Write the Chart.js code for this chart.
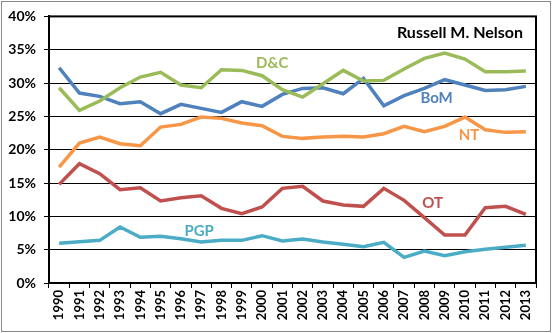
<!DOCTYPE html>
<html>
<head>
<meta charset="utf-8">
<script src="https://cdn.jsdelivr.net/npm/chart.js@4/dist/chart.umd.min.js"></script>
<style>
    html, body { margin: 0; padding: 0; background: #fff; }
    #wrap { width: 553px; height: 333px; }
</style>
</head>
<body>
<div id="wrap"><canvas id="talkChart" width="553" height="333"></canvas></div>
<script>
// Years on the x axis
const years = ['1990', '1991', '1992', '1993', '1994', '1995', '1996', '1997', '1998', '1999', '2000', '2001',
    '2002', '2003', '2004', '2005', '2006', '2007', '2008', '2009', '2010', '2011', '2012', '2013'];

// Share of each topic per year (%)
const dcValues = [29.3, 25.9, 27.3, 29.3, 30.9, 31.6, 29.7, 29.3, 32.0, 31.9, 31.1, 29.0,
    27.9, 29.9, 31.9, 30.3, 30.4, 32.1, 33.7, 34.5, 33.6, 31.7, 31.7, 31.8];
const bomValues = [32.3, 28.5, 28.0, 26.9, 27.2, 25.4, 26.8, 26.2, 25.6, 27.2, 26.5, 28.3,
    29.2, 29.3, 28.4, 30.7, 26.6, 28.1, 29.2, 30.5, 29.7, 28.9, 29.0, 29.5];
const ntValues = [17.4, 21.0, 21.9, 20.9, 20.6, 23.4, 23.8, 24.9, 24.7, 24.0, 23.6, 22.0,
    21.7, 21.9, 22.0, 21.9, 22.4, 23.5, 22.7, 23.5, 24.9, 23.0, 22.6, 22.7];
const otValues = [14.8, 17.9, 16.4, 14.0, 14.3, 12.3, 12.8, 13.1, 11.2, 10.4, 11.4, 14.2,
    14.5, 12.3, 11.7, 11.5, 14.2, 12.4, 9.8, 7.2, 7.2, 11.3, 11.5, 10.3];
const pgpValues = [5.95, 6.2, 6.4, 8.4, 6.85, 7.0, 6.65, 6.15, 6.4, 6.4, 7.1, 6.3,
    6.6, 6.15, 5.8, 5.45, 6.1, 3.85, 4.8, 4.1, 4.7, 5.05, 5.35, 5.65];

// Y axis ticks (%)
const yTicks = [0, 5, 10, 15, 20, 25, 30, 35, 40];

const chartTitle = 'Russell M. Nelson';

// Inline series names, placed by (year index, value)
const seriesTags = [
    { text: 'D&C', index: 10.5, value: 33.0, color: '#9BBB59' },
    { text: 'BoM', index: 18.6, value: 27.7, color: '#4F81BD' },
    { text: 'NT', index: 20.2, value: 22.2, color: '#F79646' },
    { text: 'OT', index: 18.4, value: 12.0, color: '#C0504D' },
    { text: 'PGP', index: 6.9, value: 7.8, color: '#4BACC6' }
];

const FONT = 'Lato, "Liberation Sans", Arial, sans-serif';

function makeSeries(label, values, color) {
    return {
        label: label,
        data: values,
        borderColor: color,
        backgroundColor: color,
        borderWidth: 3.5,
        pointRadius: 0,
        tension: 0,
        fill: false
    };
}

// Frame, title and series names
const decorations = {
    id: 'decorations',
    beforeDraw(chart) {
        const ctx = chart.ctx;
        ctx.save();
        ctx.strokeStyle = '#888888';
        ctx.lineWidth = 1;
        ctx.strokeRect(1.5, 1.5, 549, 330);
        ctx.restore();
    },
    afterDatasetsDraw(chart) {
        const ctx = chart.ctx;
        const area = chart.chartArea;
        const x = chart.scales.x;
        const y = chart.scales.y;

        ctx.save();
        // plot border
        ctx.strokeStyle = '#000';
        ctx.lineWidth = 2;
        ctx.strokeRect(area.left, area.top, area.right - area.left, area.bottom - area.top);

        ctx.textBaseline = 'middle';
        ctx.textAlign = 'right';
        ctx.fillStyle = '#000';
        ctx.font = 'bold 16px ' + FONT;
        ctx.fillText(chartTitle, area.right - 13, y.getPixelForValue(37.5));

        ctx.textAlign = 'center';
        ctx.font = 'bold 15px ' + FONT;
        seriesTags.forEach(tag => {
            const px = x.getPixelForValue(0) + tag.index * (x.getPixelForValue(1) - x.getPixelForValue(0));
            ctx.fillStyle = tag.color;
            ctx.fillText(tag.text, px, y.getPixelForValue(tag.value));
        });
        ctx.restore();
    }
};

const ctx = document.getElementById('talkChart').getContext('2d');
const chart = new Chart(ctx, {
    type: 'line',
    data: {
        labels: years,
        datasets: [
            makeSeries('D&C', dcValues, '#9BBB59'),
            makeSeries('BoM', bomValues, '#4F81BD'),
            makeSeries('NT', ntValues, '#F79646'),
            makeSeries('OT', otValues, '#C0504D'),
            makeSeries('PGP', pgpValues, '#4BACC6')
        ]
    },
    options: {
        responsive: false,
        animation: false,
        layout: {
            padding: { left: 0, right: 17, top: 16, bottom: 0 }
        },
        plugins: {
            legend: { display: false },
            tooltip: { enabled: false }
        },
        scales: {
            x: {
                offset: true,
                afterFit: scale => { scale.height = 50; },
                grid: {
                    offset: true,
                    drawOnChartArea: false,
                    color: '#000',
                    tickLength: 5,
                    lineWidth: 1
                },
                border: { color: '#000', width: 2 },
                ticks: {
                    minRotation: 90,
                    maxRotation: 90,
                    autoSkip: false,
                    padding: 2,
                    color: '#000',
                    font: { family: FONT, size: 13, weight: 'bold' }
                }
            },
            y: {
                min: 0,
                max: 40,
                afterFit: scale => { scale.width = 49; },
                afterBuildTicks: scale => {
                    scale.ticks = yTicks.map(v => ({ value: v }));
                },
                grid: {
                    color: '#000',
                    lineWidth: 1,
                    tickLength: 5
                },
                border: { color: '#000', width: 2 },
                ticks: {
                    padding: 8,
                    color: '#000',
                    font: { family: FONT, size: 14, weight: 'bold' },
                    callback: value => value + '%'
                }
            }
        }
    },
    plugins: [decorations]
});
</script>
</body>
</html>
